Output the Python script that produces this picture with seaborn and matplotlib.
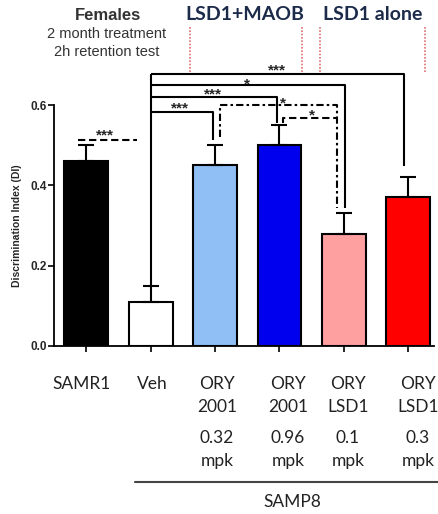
import matplotlib
matplotlib.use("Agg")
import matplotlib.pyplot as plt
import seaborn as sns
import pandas as pd

# ---- data ----
groups = ["SAMR1", "Veh", "ORY2001 0.32", "ORY2001 0.96", "ORYLSD1 0.1", "ORYLSD1 0.3"]
values = [0.46, 0.11, 0.45, 0.50, 0.28, 0.37]
errors = [0.04, 0.04, 0.05, 0.05, 0.05, 0.05]
colors = ["#000000", "#ffffff", "#8fbff5", "#0000ee", "#ffa0a0", "#ff0000"]
label_top = ["SAMR1", "Veh", "ORY\n2001", "ORY\n2001", "ORY\nLSD1", "ORY\nLSD1"]
label_bottom = ["", "", "0.32\nmpk", "0.96\nmpk", "0.1\nmpk", "0.3\nmpk"]
yticks = [0.0, 0.2, 0.4, 0.6]

df = pd.DataFrame({"group": groups, "value": values})

sns.set_theme(style="ticks")
plt.rcParams["font.family"] = ["Liberation Sans", "DejaVu Sans"]

W, H = 439, 514
fig = plt.figure(figsize=(W / 100, H / 100), dpi=100)
ax = fig.add_axes([54 / W, 1 - 346 / H, (434 - 54) / W, (346 - 105) / H])

sns.barplot(data=df, x="group", y="value", hue="group", palette=colors,
            saturation=1, edgecolor="black", linewidth=1.5, width=0.68,
            legend=False, ax=ax, errorbar=None)
ax.errorbar(range(len(values)), values, yerr=[[0] * len(values), errors],
            fmt="none", ecolor="black", elinewidth=1.5, capsize=6, capthick=1.5)

ax.set_xlim(-0.5, 5.4)
ax.set_ylim(0, 0.6)
ax.set_yticks(yticks)
ax.set_yticklabels([f"{t:.1f}" for t in yticks], fontsize=8.5, fontweight="bold")
ax.set_xticks(range(len(groups)))
ax.set_xticklabels([])
ax.set_xlabel("")
ax.set_ylabel("Discrimination Index (DI)", fontsize=7.5, fontweight="bold", labelpad=6)
for s in ["top", "right"]:
    ax.spines[s].set_visible(False)
for s in ["left", "bottom"]:
    ax.spines[s].set_linewidth(1.3)
    ax.spines[s].set_color("black")
ax.tick_params(axis="both", length=4, width=1.2, color="black", pad=1)

# ---- significance brackets (data coords) ----
DASHDOT = (0, (3.5, 1.5, 1.2, 1.5))
DASHED = (0, (3.5, 1.8))

def line(xs, ys, ls="-"):
    ax.plot(xs, ys, color="black", lw=1.5, ls=ls, clip_on=False, solid_capstyle="butt")

def star(x, y, s):
    ax.text(x, y, s, ha="center", va="center", fontsize=11, fontweight="bold",
            clip_on=False)

line([1.0, 1.0], [0.152, 0.677])
line([1.0, 4.93, 4.93], [0.677, 0.677, 0.448])
star(2.96, 0.685, "***")
line([1.0, 4.02, 4.02], [0.650, 0.650, 0.344])
star(2.5, 0.652, "*")
line([1.0, 2.97, 2.97], [0.620, 0.620, 0.555])
star(1.97, 0.627, "***")
line([1.0, 1.97, 1.97], [0.583, 0.583, 0.513])
star(1.46, 0.592, "***")
line([2.08, 2.08, 3.9, 3.9], [0.52, 0.600, 0.600, 0.343], ls=DASHDOT)
star(3.05, 0.605, "*")
line([3.05, 3.05, 3.9], [0.555, 0.568, 0.568], ls=DASHED)
star(3.5, 0.573, "*")
line([-0.12, 0.79], [0.513, 0.513], ls=DASHED)
star(0.29, 0.525, "***")

# ---- x labels (figure coords) ----
def ftext(px, py, s, **kw):
    fig.text(px / W, 1 - py / H, s, **kw)

lab_x = [82, 152, 217, 288, 348, 418]
for px, t, b in zip(lab_x, label_top, label_bottom):
    ftext(px, 376, t, ha="center", va="top", fontsize=12.5, family=["Lato", "DejaVu Sans"],
          color="#222222", linespacing=1.55)
    if b:
        ftext(px, 430, b, ha="center", va="top", fontsize=12.5, family=["Lato", "DejaVu Sans"],
              color="#222222", linespacing=1.55)

fig.add_artist(plt.Line2D([135 / W, 1.0], [1 - 482 / H] * 2, color="#444444", lw=1.5))
ftext(292, 502, "SAMP8", ha="center", va="center", fontsize=12.5,
      family=["Lato", "DejaVu Sans"], color="#222222")

# ---- header ----
ftext(108, 15, "Females", ha="center", va="center", fontsize=12, fontweight="bold", color="#333333")
ftext(107, 34, "2 month treatment", ha="center", va="center", fontsize=10.5, color="#333333")
ftext(107, 52, "2h retention test", ha="center", va="center", fontsize=10.5, color="#333333")
ftext(245, 15, "LSD1+MAOB", ha="center", va="center", fontsize=14, fontweight="bold",
      family=["Lato", "DejaVu Sans"], color="#1c2b4a")
ftext(373, 15, "LSD1 alone", ha="center", va="center", fontsize=14, fontweight="bold",
      family=["Lato", "DejaVu Sans"], color="#1c2b4a")
for px in [190, 302, 320, 425]:
    fig.add_artist(plt.Line2D([px / W] * 2, [1 - 27 / H, 1 - 73 / H], color="#e07070",
                              lw=1.2, ls=(0, (1, 1))))

fig.savefig("out.png", dpi=100)
